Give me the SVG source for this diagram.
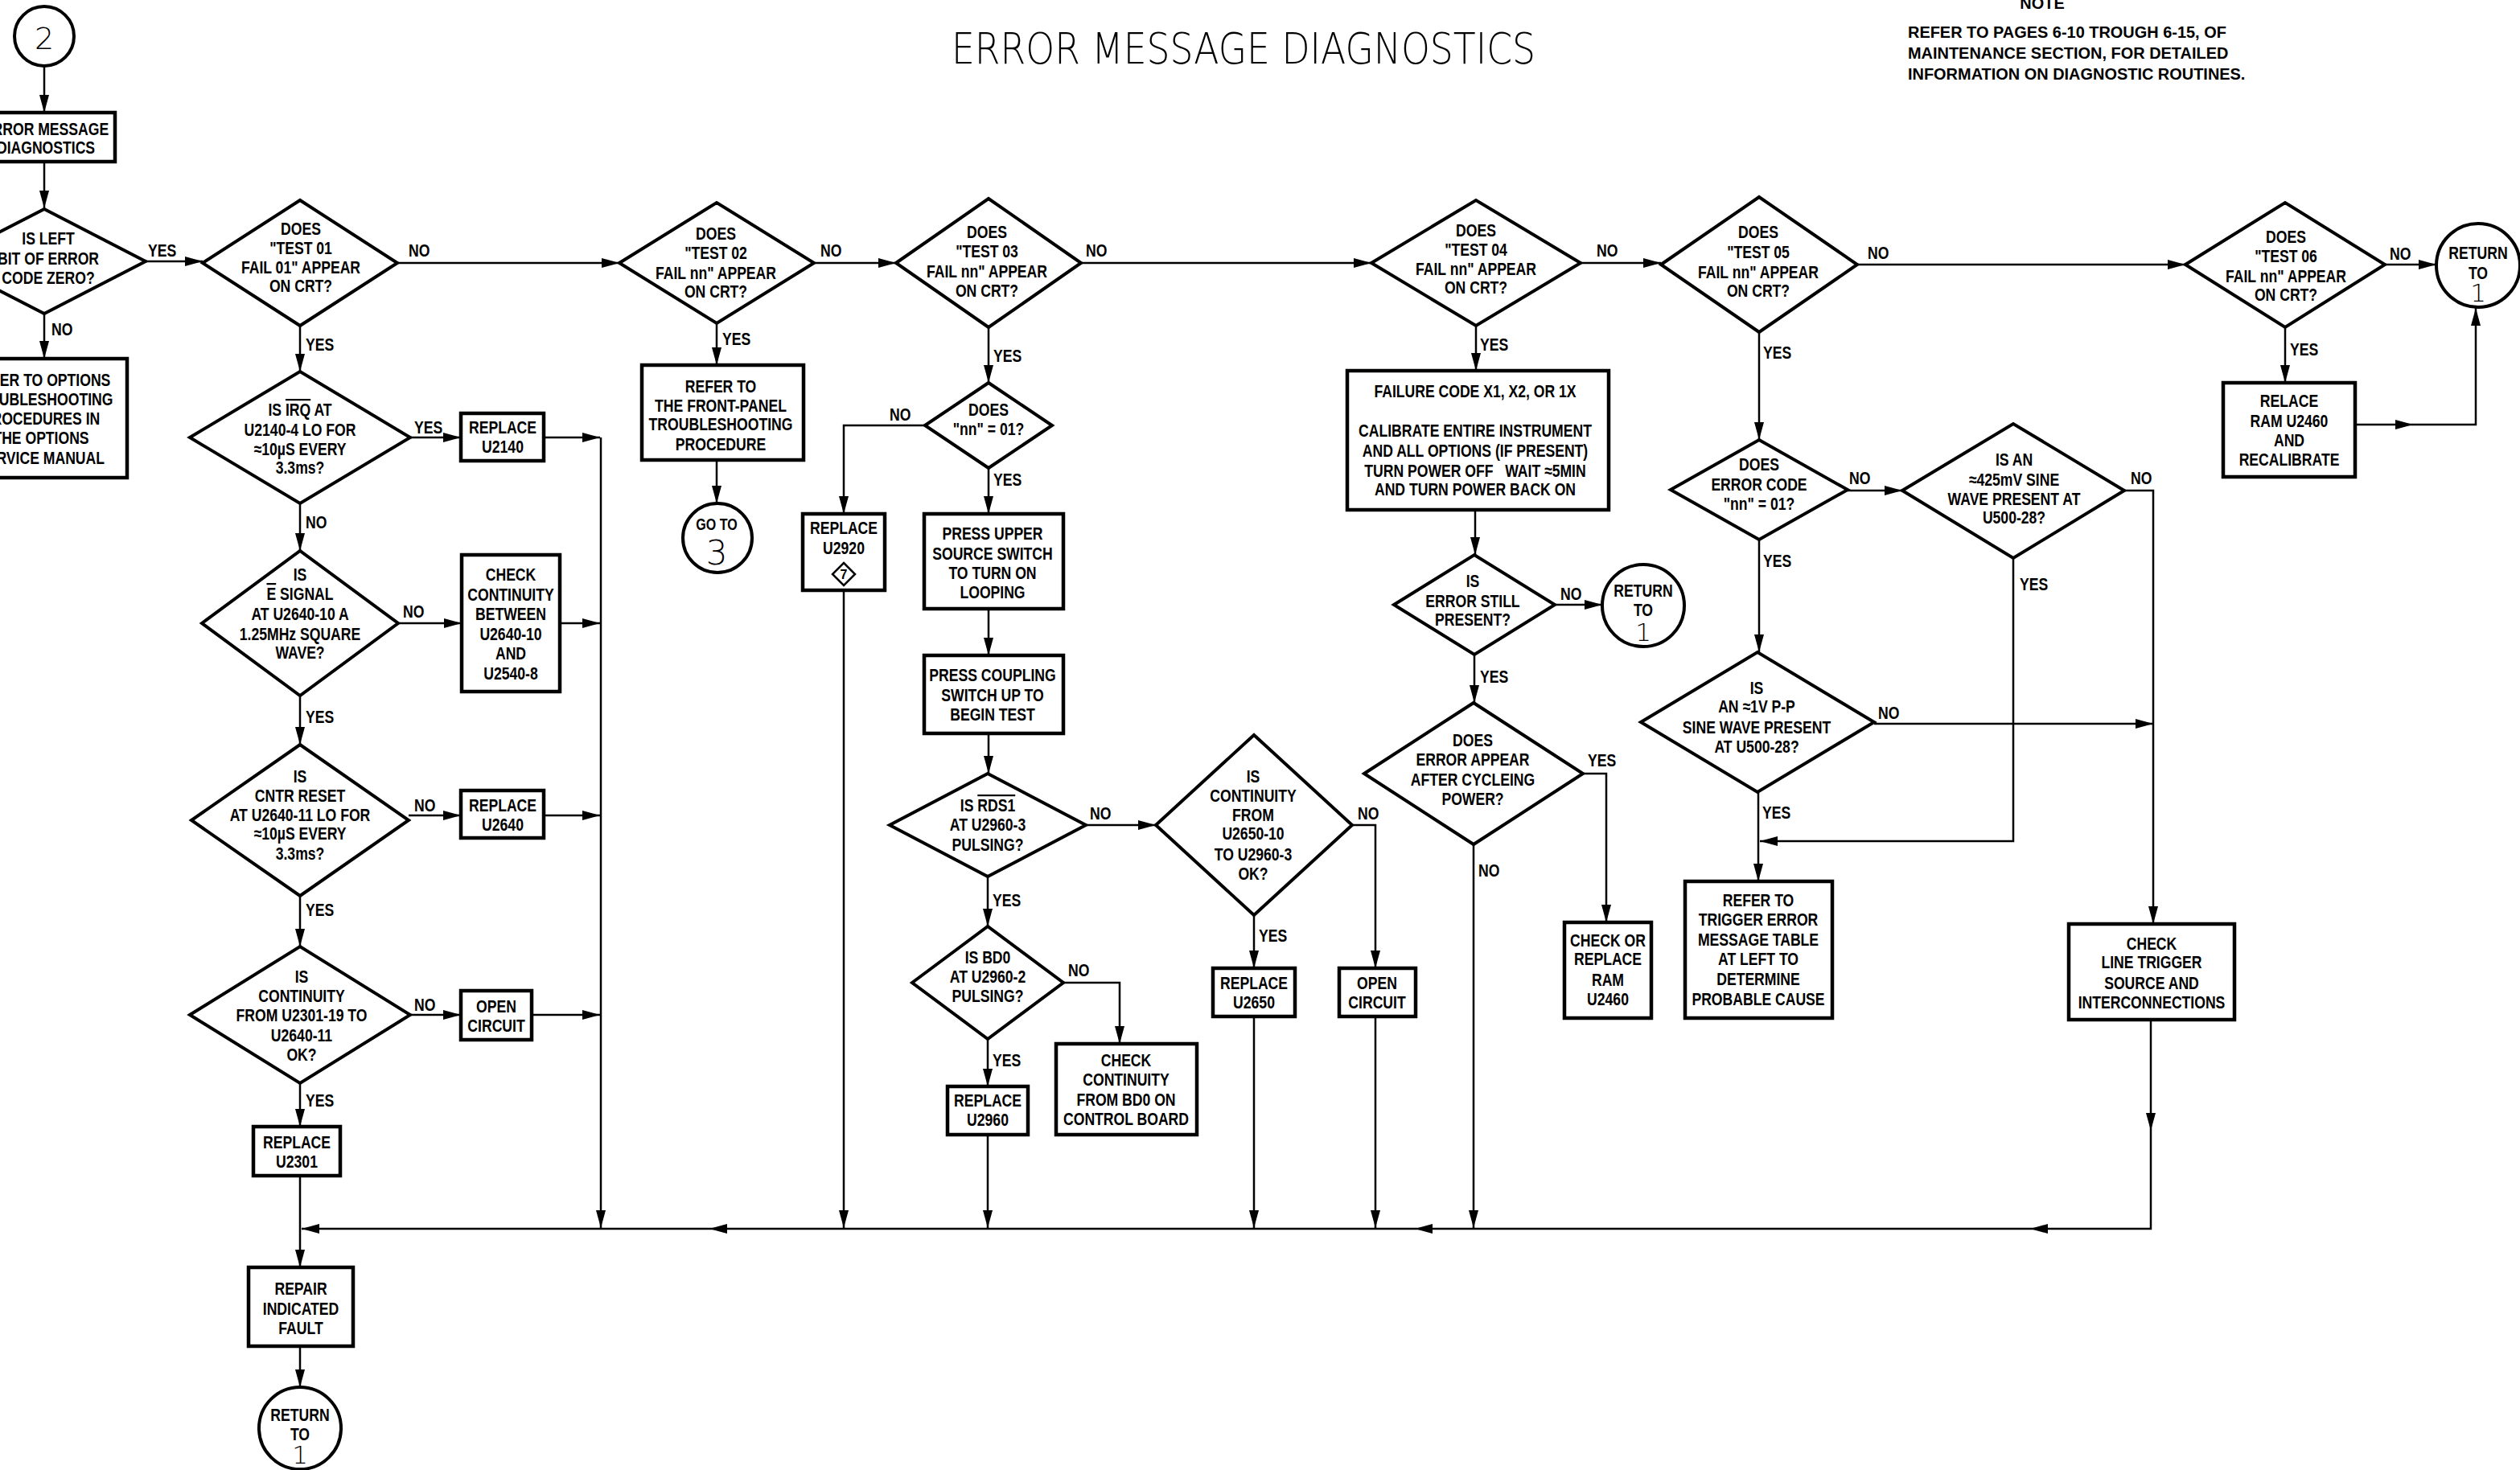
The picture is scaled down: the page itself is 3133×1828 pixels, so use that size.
<svg xmlns="http://www.w3.org/2000/svg" width="3133" height="1828" viewBox="0 0 3133 1828">
<style>
.t{font-family:"Liberation Sans",Arial,sans-serif;font-weight:bold;font-size:22px;text-anchor:middle;fill:#000}
.l{font-family:"Liberation Sans",Arial,sans-serif;font-weight:bold;font-size:22px;text-anchor:start;fill:#000}
.n{font-family:"Liberation Sans",Arial,sans-serif;font-weight:bold;font-size:21px;fill:#000}
.thin{font-family:"DejaVu Sans",sans-serif;font-weight:200;text-anchor:middle;fill:#000}
.box{fill:#fff;stroke:#000;stroke-width:4.5}
.dia{fill:#fff;stroke:#000;stroke-width:4;stroke-linejoin:miter}
.cir{fill:#fff;stroke:#000;stroke-width:4}
.c{fill:none;stroke:#000;stroke-width:2.5}
.ov{text-decoration:overline}
</style>
<defs>
<marker id="ah" viewBox="0 0 22 12" refX="22" refY="6" markerWidth="22" markerHeight="12" markerUnits="userSpaceOnUse" orient="auto"><path d="M0,0 L22,6 L0,12 z" fill="#000"/></marker>
</defs>
<rect x="0" y="0" width="3133" height="1828" fill="#fff"/>

<text class="thin" x="1183" y="79" style="text-anchor:start;font-size:53px" textLength="726" lengthAdjust="spacingAndGlyphs">ERROR MESSAGE DIAGNOSTICS</text>

<g id="note">
<text class="n" text-anchor="middle" transform="translate(2539 0) scale(.95 1)" y="11">NOTE</text>
<text class="n" transform="translate(2372 0) scale(.95 1)"><tspan x="0" y="47">REFER TO PAGES 6-10 TROUGH 6-15, OF</tspan><tspan x="0" y="73">MAINTENANCE SECTION, FOR DETAILED</tspan><tspan x="0" y="99">INFORMATION ON DIAGNOSTIC ROUTINES.</tspan></text>
</g>

<g id="connectors" class="c">
<path d="M55,82 L55,140" marker-end="url(#ah)"/>
<path d="M55,201 L55,259" marker-end="url(#ah)"/>
<path d="M181,325 L252,325" marker-end="url(#ah)"/>
<path d="M55,390 L55,446" marker-end="url(#ah)"/>
<path d="M494,327 L770,327" marker-end="url(#ah)"/>
<path d="M373,405 L373,462" marker-end="url(#ah)"/>
<path d="M510,544 L573,544" marker-end="url(#ah)"/>
<path d="M676,544 L746,544" marker-end="url(#ah)"/>
<path d="M747,544 L747,1527" marker-end="url(#ah)"/>
<path d="M373,626 L373,685" marker-end="url(#ah)"/>
<path d="M495,775 L574,775" marker-end="url(#ah)"/>
<path d="M696,775 L746,775" marker-end="url(#ah)"/>
<path d="M373,865 L373,926" marker-end="url(#ah)"/>
<path d="M508,1014 L573,1014" marker-end="url(#ah)"/>
<path d="M676,1014 L746,1014" marker-end="url(#ah)"/>
<path d="M373,1114 L373,1177" marker-end="url(#ah)"/>
<path d="M510,1262 L573,1262" marker-end="url(#ah)"/>
<path d="M661,1262 L746,1262" marker-end="url(#ah)"/>
<path d="M373,1347 L373,1401" marker-end="url(#ah)"/>
<path d="M373,1462 L373,1576" marker-end="url(#ah)"/>
<path d="M373,1674 L373,1725" marker-end="url(#ah)"/>
<path d="M2674,1268 L2674,1406" marker-end="url(#ah)"/>
<path d="M2674,1406 L2674,1528 L2524,1528" marker-end="url(#ah)"/>
<path d="M2524,1528 L1759,1528" marker-end="url(#ah)"/>
<path d="M1759,1528 L882,1528" marker-end="url(#ah)"/>
<path d="M882,1528 L375,1528" marker-end="url(#ah)"/>
<path d="M1012,327 L1114,327" marker-end="url(#ah)"/>
<path d="M891,402 L891,454" marker-end="url(#ah)"/>
<path d="M891,572 L891,626" marker-end="url(#ah)"/>
<path d="M1344,327 L1705,327" marker-end="url(#ah)"/>
<path d="M1229,407 L1229,476" marker-end="url(#ah)"/>
<path d="M1150,529 L1049,529 L1049,639" marker-end="url(#ah)"/>
<path d="M1229,582 L1229,639" marker-end="url(#ah)"/>
<path d="M1049,734 L1049,1527" marker-end="url(#ah)"/>
<path d="M1229,757 L1229,815" marker-end="url(#ah)"/>
<path d="M1229,912 L1229,962" marker-end="url(#ah)"/>
<path d="M1350,1026 L1437,1026" marker-end="url(#ah)"/>
<path d="M1228,1090 L1228,1152" marker-end="url(#ah)"/>
<path d="M1322,1222 L1392,1222 L1392,1298" marker-end="url(#ah)"/>
<path d="M1228,1292 L1228,1351" marker-end="url(#ah)"/>
<path d="M1228,1411 L1228,1527" marker-end="url(#ah)"/>
<path d="M1559,1138 L1559,1204" marker-end="url(#ah)"/>
<path d="M1559,1264 L1559,1527" marker-end="url(#ah)"/>
<path d="M1681,1026 L1710,1026 L1710,1204" marker-end="url(#ah)"/>
<path d="M1710,1264 L1710,1527" marker-end="url(#ah)"/>
<path d="M1965,327 L2065,327" marker-end="url(#ah)"/>
<path d="M1835,405 L1835,461" marker-end="url(#ah)"/>
<path d="M1834,634 L1834,690" marker-end="url(#ah)"/>
<path d="M1933,752 L1992,752" marker-end="url(#ah)"/>
<path d="M1833,814 L1833,874" marker-end="url(#ah)"/>
<path d="M1968,962 L1997,962 L1997,1147" marker-end="url(#ah)"/>
<path d="M1832,1050 L1832,1527" marker-end="url(#ah)"/>
<path d="M2309,329 L2717,329" marker-end="url(#ah)"/>
<path d="M2187,413 L2187,547" marker-end="url(#ah)"/>
<path d="M2297,610 L2365,610" marker-end="url(#ah)"/>
<path d="M2187,671 L2187,811" marker-end="url(#ah)"/>
<path d="M2330,900 L2677,900" marker-end="url(#ah)"/>
<path d="M2186,985 L2186,1096" marker-end="url(#ah)"/>
<path d="M2641,610 L2677,610 L2677,1149" marker-end="url(#ah)"/>
<path d="M2503,694 L2503,1046 L2188,1046" marker-end="url(#ah)"/>
<path d="M2965,329 L3029,329" marker-end="url(#ah)"/>
<path d="M2841,407 L2841,476" marker-end="url(#ah)"/>
<path d="M2928,528 L3000,528" marker-end="url(#ah)"/>
<path d="M3000,528 L3078,528 L3078,383" marker-end="url(#ah)"/>
</g>

<g id="labels">
<text class="l" transform="translate(184 0) scale(.8 1)" y="319">YES</text>
<text class="l" transform="translate(64 0) scale(.8 1)" y="417">NO</text>
<text class="l" transform="translate(508 0) scale(.8 1)" y="319">NO</text>
<text class="l" transform="translate(380 0) scale(.8 1)" y="436">YES</text>
<text class="l" transform="translate(515 0) scale(.8 1)" y="539">YES</text>
<text class="l" transform="translate(380 0) scale(.8 1)" y="657">NO</text>
<text class="l" transform="translate(501 0) scale(.8 1)" y="768">NO</text>
<text class="l" transform="translate(380 0) scale(.8 1)" y="899">YES</text>
<text class="l" transform="translate(515 0) scale(.8 1)" y="1009">NO</text>
<text class="l" transform="translate(380 0) scale(.8 1)" y="1139">YES</text>
<text class="l" transform="translate(515 0) scale(.8 1)" y="1257">NO</text>
<text class="l" transform="translate(380 0) scale(.8 1)" y="1376">YES</text>
<text class="l" transform="translate(1020 0) scale(.8 1)" y="319">NO</text>
<text class="l" transform="translate(898 0) scale(.8 1)" y="429">YES</text>
<text class="l" transform="translate(1350 0) scale(.8 1)" y="319">NO</text>
<text class="l" transform="translate(1235 0) scale(.8 1)" y="450">YES</text>
<text class="l" transform="translate(1106 0) scale(.8 1)" y="523">NO</text>
<text class="l" transform="translate(1235 0) scale(.8 1)" y="604">YES</text>
<text class="l" transform="translate(1355 0) scale(.8 1)" y="1019">NO</text>
<text class="l" transform="translate(1234 0) scale(.8 1)" y="1127">YES</text>
<text class="l" transform="translate(1328 0) scale(.8 1)" y="1214">NO</text>
<text class="l" transform="translate(1234 0) scale(.8 1)" y="1326">YES</text>
<text class="l" transform="translate(1565 0) scale(.8 1)" y="1171">YES</text>
<text class="l" transform="translate(1688 0) scale(.8 1)" y="1019">NO</text>
<text class="l" transform="translate(1985 0) scale(.8 1)" y="319">NO</text>
<text class="l" transform="translate(1840 0) scale(.8 1)" y="436">YES</text>
<text class="l" transform="translate(1940 0) scale(.8 1)" y="746">NO</text>
<text class="l" transform="translate(1840 0) scale(.8 1)" y="849">YES</text>
<text class="l" transform="translate(1974 0) scale(.8 1)" y="953">YES</text>
<text class="l" transform="translate(1838 0) scale(.8 1)" y="1090">NO</text>
<text class="l" transform="translate(2322 0) scale(.8 1)" y="322">NO</text>
<text class="l" transform="translate(2192 0) scale(.8 1)" y="446">YES</text>
<text class="l" transform="translate(2299 0) scale(.8 1)" y="602">NO</text>
<text class="l" transform="translate(2192 0) scale(.8 1)" y="705">YES</text>
<text class="l" transform="translate(2335 0) scale(.8 1)" y="894">NO</text>
<text class="l" transform="translate(2191 0) scale(.8 1)" y="1018">YES</text>
<text class="l" transform="translate(2649 0) scale(.8 1)" y="602">NO</text>
<text class="l" transform="translate(2511 0) scale(.8 1)" y="734">YES</text>
<text class="l" transform="translate(2971 0) scale(.8 1)" y="323">NO</text>
<text class="l" transform="translate(2847 0) scale(.8 1)" y="442">YES</text>
</g>

<g id="start2"><circle class="cir" cx="55" cy="45" r="37"/><text class="thin" x="55" y="61" style="font-size:38px">2</text></g>

<g id="n-emd"><rect class="box" x="-30" y="140" width="173" height="61"/>
<text class="t" transform="translate(57 0) scale(.8 1)"><tspan x="0" y="168">ERROR MESSAGE</tspan><tspan x="0" y="191">DIAGNOSTICS</tspan></text></g>

<g id="n-left"><polygon class="dia" points="-71,325 55,260 181,325 55,390"/>
<text class="t" transform="translate(60 0) scale(.8 1)"><tspan x="0" y="304">IS LEFT</tspan><tspan x="0" y="329">BIT OF ERROR</tspan><tspan x="0" y="353">CODE ZERO?</tspan></text></g>

<g id="n-options"><rect class="box" x="-56" y="446" width="214" height="148"/>
<text class="t" transform="translate(51 0) scale(.8 1)"><tspan x="0" y="480">REFER TO OPTIONS</tspan><tspan x="0" y="504">TROUBLESHOOTING</tspan><tspan x="0" y="528">PROCEDURES IN</tspan><tspan x="0" y="552">THE OPTIONS</tspan><tspan x="0" y="577">SERVICE MANUAL</tspan></text></g>

<g id="n-t01"><polygon class="dia" points="252,327 373,249 494,327 373,405"/>
<text class="t" transform="translate(374 0) scale(.8 1)"><tspan x="0" y="292">DOES</tspan><tspan x="0" y="316">"TEST 01</tspan><tspan x="0" y="340">FAIL 01" APPEAR</tspan><tspan x="0" y="363">ON CRT?</tspan></text></g>

<g id="n-irq"><polygon class="dia" points="236,544 373,462 510,544 373,626"/>
<text class="t" transform="translate(373 0) scale(.8 1)"><tspan x="0" y="517">IS <tspan class="ov">IRQ</tspan> AT</tspan><tspan x="0" y="542">U2140-4 LO FOR</tspan><tspan x="0" y="566">≈10µS EVERY</tspan><tspan x="0" y="589">3.3ms?</tspan></text></g>

<g id="n-r2140"><rect class="box" x="573" y="514" width="103" height="59"/>
<text class="t" transform="translate(625 0) scale(.8 1)"><tspan x="0" y="539">REPLACE</tspan><tspan x="0" y="563">U2140</tspan></text></g>

<g id="n-esig"><polygon class="dia" points="251,775 373,685 495,775 373,865"/>
<text class="t" transform="translate(373 0) scale(.8 1)"><tspan x="0" y="722">IS</tspan><tspan x="0" y="746"><tspan class="ov">E</tspan> SIGNAL</tspan><tspan x="0" y="771">AT U2640-10 A</tspan><tspan x="0" y="796">1.25MHz SQUARE</tspan><tspan x="0" y="819">WAVE?</tspan></text></g>

<g id="n-chk1"><rect class="box" x="574" y="690" width="122" height="170"/>
<text class="t" transform="translate(635 0) scale(.8 1)"><tspan x="0" y="722">CHECK</tspan><tspan x="0" y="747">CONTINUITY</tspan><tspan x="0" y="771">BETWEEN</tspan><tspan x="0" y="796">U2640-10</tspan><tspan x="0" y="820">AND</tspan><tspan x="0" y="845">U2540-8</tspan></text></g>

<g id="n-cntr"><polygon class="dia" points="238,1020 373,926 508,1020 373,1114"/>
<text class="t" transform="translate(373 0) scale(.8 1)"><tspan x="0" y="973">IS</tspan><tspan x="0" y="997">CNTR RESET</tspan><tspan x="0" y="1021">AT U2640-11 LO FOR</tspan><tspan x="0" y="1044">≈10µS EVERY</tspan><tspan x="0" y="1069">3.3ms?</tspan></text></g>

<g id="n-r2640"><rect class="box" x="573" y="983" width="103" height="59"/>
<text class="t" transform="translate(625 0) scale(.8 1)"><tspan x="0" y="1009">REPLACE</tspan><tspan x="0" y="1033">U2640</tspan></text></g>

<g id="n-cont1"><polygon class="dia" points="236,1262 373,1177 510,1262 373,1347"/>
<text class="t" transform="translate(375 0) scale(.8 1)"><tspan x="0" y="1222">IS</tspan><tspan x="0" y="1246">CONTINUITY</tspan><tspan x="0" y="1270">FROM U2301-19 TO</tspan><tspan x="0" y="1295">U2640-11</tspan><tspan x="0" y="1319">OK?</tspan></text></g>

<g id="n-open1"><rect class="box" x="573" y="1232" width="88" height="61"/>
<text class="t" transform="translate(617 0) scale(.8 1)"><tspan x="0" y="1259">OPEN</tspan><tspan x="0" y="1283">CIRCUIT</tspan></text></g>

<g id="n-r2301"><rect class="box" x="315" y="1401" width="108" height="61"/>
<text class="t" transform="translate(369 0) scale(.8 1)"><tspan x="0" y="1428">REPLACE</tspan><tspan x="0" y="1452">U2301</tspan></text></g>

<g id="n-repair"><rect class="box" x="309" y="1576" width="130" height="98"/>
<text class="t" transform="translate(374 0) scale(.8 1)"><tspan x="0" y="1610">REPAIR</tspan><tspan x="0" y="1635">INDICATED</tspan><tspan x="0" y="1659">FAULT</tspan></text></g>

<g id="n-ret1a"><circle class="cir" cx="373" cy="1776" r="51"/>
<text class="t" transform="translate(373 0) scale(.8 1)"><tspan x="0" y="1767">RETURN</tspan><tspan x="0" y="1791">TO</tspan></text>
<text class="thin" x="373" y="1820" style="font-size:31px">1</text></g>

<g id="n-t02"><polygon class="dia" points="770,327 891,252 1012,327 891,402"/>
<text class="t" transform="translate(890 0) scale(.8 1)"><tspan x="0" y="298">DOES</tspan><tspan x="0" y="322">"TEST 02</tspan><tspan x="0" y="347">FAIL nn" APPEAR</tspan><tspan x="0" y="370">ON CRT?</tspan></text></g>

<g id="n-front"><rect class="box" x="798" y="454" width="201" height="118"/>
<text class="t" transform="translate(896 0) scale(.8 1)"><tspan x="0" y="488">REFER TO</tspan><tspan x="0" y="512">THE FRONT-PANEL</tspan><tspan x="0" y="535">TROUBLESHOOTING</tspan><tspan x="0" y="560">PROCEDURE</tspan></text></g>

<g id="n-goto3"><circle class="cir" cx="892" cy="669" r="43"/>
<text class="t" style="font-size:20px" transform="translate(891 0) scale(.8 1)" y="659">GO TO</text>
<text class="thin" x="891" y="702" style="font-size:42px">3</text></g>

<g id="n-t03"><polygon class="dia" points="1114,327 1229,247 1344,327 1229,407"/>
<text class="t" transform="translate(1227 0) scale(.8 1)"><tspan x="0" y="296">DOES</tspan><tspan x="0" y="320">"TEST 03</tspan><tspan x="0" y="345">FAIL nn" APPEAR</tspan><tspan x="0" y="369">ON CRT?</tspan></text></g>

<g id="n-nn01a"><polygon class="dia" points="1150,529 1229,476 1308,529 1229,582"/>
<text class="t" transform="translate(1229 0) scale(.8 1)"><tspan x="0" y="517">DOES</tspan><tspan x="0" y="541">"nn" = 01?</tspan></text></g>

<g id="n-r2920"><rect class="box" x="998" y="639" width="102" height="95"/>
<text class="t" transform="translate(1049 0) scale(.8 1)"><tspan x="0" y="664">REPLACE</tspan><tspan x="0" y="689">U2920</tspan></text>
<polygon points="1049,700 1063,714 1049,728 1035,714" fill="#fff" stroke="#000" stroke-width="2.5"/>
<text class="t" style="font-size:16px" x="1049" y="720">7</text></g>

<g id="n-upper"><rect class="box" x="1149" y="639" width="173" height="118"/>
<text class="t" transform="translate(1234 0) scale(.8 1)"><tspan x="0" y="671">PRESS UPPER</tspan><tspan x="0" y="696">SOURCE SWITCH</tspan><tspan x="0" y="720">TO TURN ON</tspan><tspan x="0" y="744">LOOPING</tspan></text></g>

<g id="n-coupling"><rect class="box" x="1149" y="815" width="173" height="97"/>
<text class="t" transform="translate(1234 0) scale(.8 1)"><tspan x="0" y="847">PRESS COUPLING</tspan><tspan x="0" y="872">SWITCH UP TO</tspan><tspan x="0" y="896">BEGIN TEST</tspan></text></g>

<g id="n-rds1"><polygon class="dia" points="1106,1026 1228,962 1350,1026 1228,1090"/>
<text class="t" transform="translate(1228 0) scale(.8 1)"><tspan x="0" y="1009">IS <tspan class="ov">RDS1</tspan></tspan><tspan x="0" y="1033">AT U2960-3</tspan><tspan x="0" y="1058">PULSING?</tspan></text></g>

<g id="n-cont2"><polygon class="dia" points="1437,1026 1559,914 1681,1026 1559,1138"/>
<text class="t" transform="translate(1558 0) scale(.8 1)"><tspan x="0" y="973">IS</tspan><tspan x="0" y="997">CONTINUITY</tspan><tspan x="0" y="1021">FROM</tspan><tspan x="0" y="1044">U2650-10</tspan><tspan x="0" y="1070">TO U2960-3</tspan><tspan x="0" y="1094">OK?</tspan></text></g>

<g id="n-r2650"><rect class="box" x="1508" y="1204" width="102" height="60"/>
<text class="t" transform="translate(1559 0) scale(.8 1)"><tspan x="0" y="1230">REPLACE</tspan><tspan x="0" y="1254">U2650</tspan></text></g>

<g id="n-open2"><rect class="box" x="1665" y="1204" width="95" height="60"/>
<text class="t" transform="translate(1712 0) scale(.8 1)"><tspan x="0" y="1230">OPEN</tspan><tspan x="0" y="1254">CIRCUIT</tspan></text></g>

<g id="n-bd0"><polygon class="dia" points="1134,1222 1228,1152 1322,1222 1228,1292"/>
<text class="t" transform="translate(1228 0) scale(.8 1)"><tspan x="0" y="1198">IS BD0</tspan><tspan x="0" y="1222">AT U2960-2</tspan><tspan x="0" y="1246">PULSING?</tspan></text></g>

<g id="n-r2960"><rect class="box" x="1178" y="1351" width="100" height="60"/>
<text class="t" transform="translate(1228 0) scale(.8 1)"><tspan x="0" y="1376">REPLACE</tspan><tspan x="0" y="1400">U2960</tspan></text></g>

<g id="n-chkbd0"><rect class="box" x="1313" y="1298" width="175" height="113"/>
<text class="t" transform="translate(1400 0) scale(.8 1)"><tspan x="0" y="1326">CHECK</tspan><tspan x="0" y="1350">CONTINUITY</tspan><tspan x="0" y="1375">FROM BD0 ON</tspan><tspan x="0" y="1399">CONTROL BOARD</tspan></text></g>

<g id="n-t04"><polygon class="dia" points="1705,327 1835,249 1965,327 1835,405"/>
<text class="t" transform="translate(1835 0) scale(.8 1)"><tspan x="0" y="294">DOES</tspan><tspan x="0" y="318">"TEST 04</tspan><tspan x="0" y="342">FAIL nn" APPEAR</tspan><tspan x="0" y="365">ON CRT?</tspan></text></g>

<g id="n-failure"><rect class="box" x="1675" y="461" width="325" height="173"/>
<text class="t" transform="translate(1834 0) scale(.8 1)"><tspan x="0" y="494">FAILURE CODE X1, X2, OR 1X</tspan><tspan x="0" y="543">CALIBRATE ENTIRE INSTRUMENT</tspan><tspan x="0" y="568">AND ALL OPTIONS (IF PRESENT)</tspan><tspan x="0" y="593" xml:space="preserve">TURN POWER OFF   WAIT ≈5MIN</tspan><tspan x="0" y="616">AND TURN POWER BACK ON</tspan></text></g>

<g id="n-still"><polygon class="dia" points="1733,752 1833,690 1933,752 1833,814"/>
<text class="t" transform="translate(1831 0) scale(.8 1)"><tspan x="0" y="730">IS</tspan><tspan x="0" y="755">ERROR STILL</tspan><tspan x="0" y="778">PRESENT?</tspan></text></g>

<g id="n-ret1b"><circle class="cir" cx="2043" cy="753" r="51"/>
<text class="t" transform="translate(2043 0) scale(.8 1)"><tspan x="0" y="742">RETURN</tspan><tspan x="0" y="766">TO</tspan></text>
<text class="thin" x="2043" y="797" style="font-size:31px">1</text></g>

<g id="n-cycle"><polygon class="dia" points="1696,962 1832,874 1968,962 1832,1050"/>
<text class="t" transform="translate(1831 0) scale(.8 1)"><tspan x="0" y="928">DOES</tspan><tspan x="0" y="952">ERROR APPEAR</tspan><tspan x="0" y="977">AFTER CYCLEING</tspan><tspan x="0" y="1001">POWER?</tspan></text></g>

<g id="n-ram"><rect class="box" x="1945" y="1147" width="108" height="119"/>
<text class="t" transform="translate(1999 0) scale(.8 1)"><tspan x="0" y="1177">CHECK OR</tspan><tspan x="0" y="1200">REPLACE</tspan><tspan x="0" y="1226">RAM</tspan><tspan x="0" y="1250">U2460</tspan></text></g>

<g id="n-t05"><polygon class="dia" points="2065,329 2187,245 2309,329 2187,413"/>
<text class="t" transform="translate(2186 0) scale(.8 1)"><tspan x="0" y="296">DOES</tspan><tspan x="0" y="321">"TEST 05</tspan><tspan x="0" y="346">FAIL nn" APPEAR</tspan><tspan x="0" y="369">ON CRT?</tspan></text></g>

<g id="n-nn01b"><polygon class="dia" points="2077,609 2187,547 2297,609 2187,671"/>
<text class="t" transform="translate(2187 0) scale(.8 1)"><tspan x="0" y="585">DOES</tspan><tspan x="0" y="610">ERROR CODE</tspan><tspan x="0" y="634">"nn" = 01?</tspan></text></g>

<g id="n-1v"><polygon class="dia" points="2040,898 2185,811 2330,898 2185,985"/>
<text class="t" transform="translate(2184 0) scale(.8 1)"><tspan x="0" y="863">IS</tspan><tspan x="0" y="886">AN ≈1V P-P</tspan><tspan x="0" y="912">SINE WAVE PRESENT</tspan><tspan x="0" y="936">AT U500-28?</tspan></text></g>

<g id="n-trig"><rect class="box" x="2095" y="1096" width="183" height="170"/>
<text class="t" transform="translate(2186 0) scale(.8 1)"><tspan x="0" y="1127">REFER TO</tspan><tspan x="0" y="1151">TRIGGER ERROR</tspan><tspan x="0" y="1176">MESSAGE TABLE</tspan><tspan x="0" y="1200">AT LEFT TO</tspan><tspan x="0" y="1225">DETERMINE</tspan><tspan x="0" y="1250">PROBABLE CAUSE</tspan></text></g>

<g id="n-425"><polygon class="dia" points="2365,610 2503,527 2641,610 2503,694"/>
<text class="t" transform="translate(2504 0) scale(.8 1)"><tspan x="0" y="579">IS AN</tspan><tspan x="0" y="604">≈425mV SINE</tspan><tspan x="0" y="628">WAVE PRESENT AT</tspan><tspan x="0" y="651">U500-28?</tspan></text></g>

<g id="n-line"><rect class="box" x="2572" y="1149" width="206" height="119"/>
<text class="t" transform="translate(2675 0) scale(.8 1)"><tspan x="0" y="1181">CHECK</tspan><tspan x="0" y="1204">LINE TRIGGER</tspan><tspan x="0" y="1230">SOURCE AND</tspan><tspan x="0" y="1254">INTERCONNECTIONS</tspan></text></g>

<g id="n-t06"><polygon class="dia" points="2717,329 2841,252 2965,329 2841,407"/>
<text class="t" transform="translate(2842 0) scale(.8 1)"><tspan x="0" y="302">DOES</tspan><tspan x="0" y="326">"TEST 06</tspan><tspan x="0" y="351">FAIL nn" APPEAR</tspan><tspan x="0" y="374">ON CRT?</tspan></text></g>

<g id="n-ret1c"><circle class="cir" cx="3081" cy="330" r="52"/>
<text class="t" transform="translate(3081 0) scale(.8 1)"><tspan x="0" y="322">RETURN</tspan><tspan x="0" y="347">TO</tspan></text>
<text class="thin" x="3081" y="375" style="font-size:31px">1</text></g>

<g id="n-relace"><rect class="box" x="2764" y="476" width="164" height="117"/>
<text class="t" transform="translate(2846 0) scale(.8 1)"><tspan x="0" y="506">RELACE</tspan><tspan x="0" y="531">RAM U2460</tspan><tspan x="0" y="555">AND</tspan><tspan x="0" y="579">RECALIBRATE</tspan></text></g>
</svg>
